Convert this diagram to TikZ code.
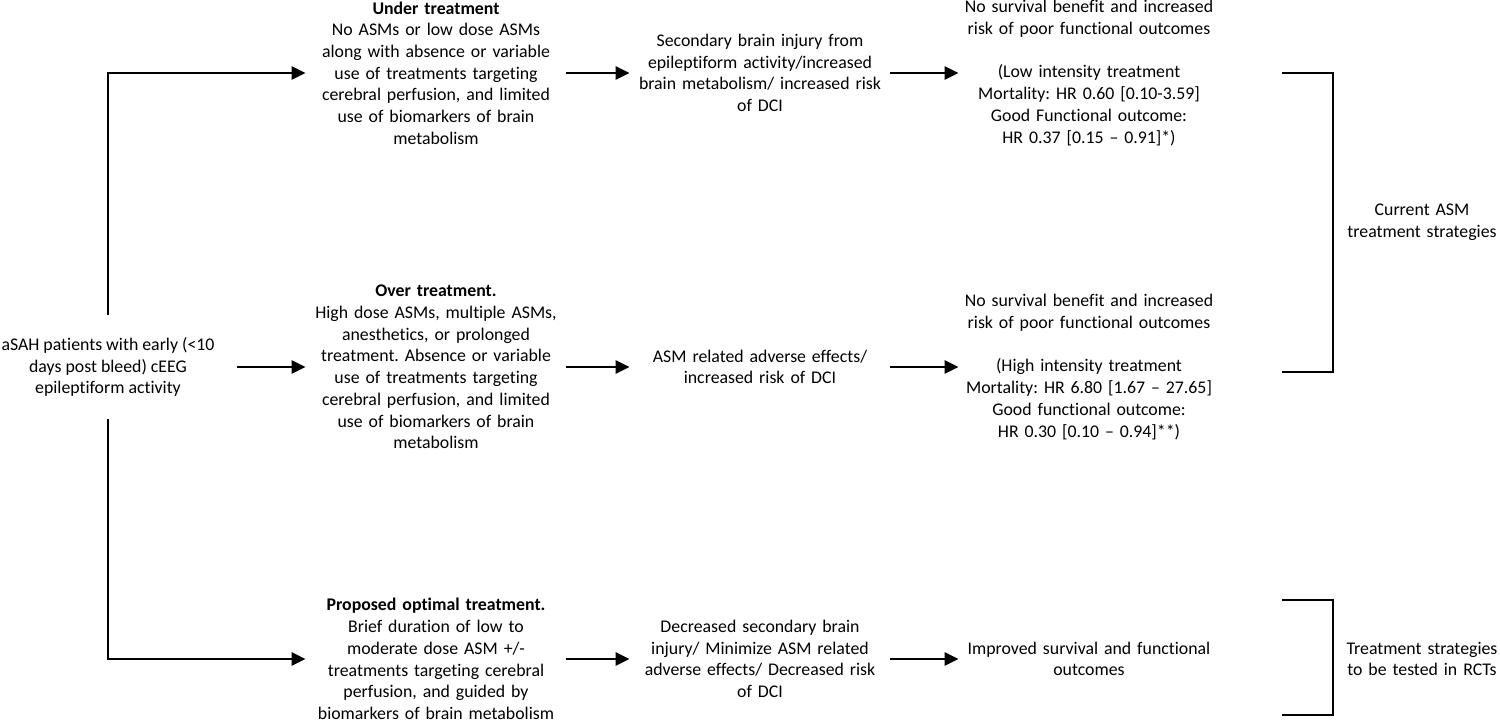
\documentclass[tikz,border=0pt]{standalone}
\usepackage{fontspec}
\setmainfont{Carlito}[Ligatures={TeX,NoCommon}]
\usetikzlibrary{arrows.meta}
\frenchspacing

\begin{document}
\begin{tikzpicture}[x=0.5pt,y=-0.5pt,
    txt/.style={font=\fontsize{8.9}{10.85}\selectfont},
    box/.style={txt,align=center,text width=126pt,inner xsep=2pt,inner ysep=0pt},
    conn/.style={line width=1.3pt,-{Triangle[length=7pt,width=6.5pt]}},
    bracket/.style={line width=1.3pt}]
  \useasboundingbox (0,0) rectangle (1500,722);

  \node[txt,align=center,inner xsep=11pt,inner ysep=11pt] (pat) at (108,367)
    {aSAH patients with early (<10\\days post bleed) cEEG\\epileptiform activity};

  \node[box] (under) at (436,73) {\textbf{Under treatment}\\No ASMs or low dose ASMs\\along with absence or variable\\use of treatments targeting\\cerebral perfusion, and limited\\use of biomarkers of brain\\metabolism};
  \node[box] (over) at (436,367) {\textbf{Over treatment.}\\High dose ASMs, multiple ASMs,\\anesthetics, or prolonged\\treatment. Absence or variable\\use of treatments targeting\\cerebral perfusion, and limited\\use of biomarkers of brain\\metabolism};
  \node[box] (prop) at (436,659) {\textbf{Proposed optimal treatment.}\\Brief duration of low to\\moderate dose ASM +/-\\treatments targeting cerebral\\perfusion, and guided by\\biomarkers of brain metabolism};

  \node[box] (injury) at (760,73) {Secondary brain injury from\\epileptiform activity/increased\\brain metabolism/ increased risk\\of DCI};
  \node[box] (adverse) at (760,367) {ASM related adverse effects/\\increased risk of DCI};
  \node[box] (decr) at (760,659) {Decreased secondary brain\\injury/ Minimize ASM related\\adverse effects/ Decreased risk\\of DCI};

  \node[box] (low) at (1089,73) {No survival benefit and increased\\risk of poor functional outcomes\\~\\(Low intensity treatment\\Mortality: HR 0.60 [0.10-3.59]\\Good Functional outcome:\\HR 0.37 [0.15 – 0.91]*)};
  \node[box] (high) at (1089,367) {No survival benefit and increased\\risk of poor functional outcomes\\~\\(High intensity treatment\\Mortality: HR 6.80 [1.67 – 27.65]\\Good functional outcome:\\HR 0.30 [0.10 – 0.94]**)};
  \node[box] (impr) at (1089,659) {Improved survival and functional\\outcomes};

  \node[box] (cur) at (1422,222) {Current ASM\\treatment strategies};
  \node[box] (rct) at (1422,659) {Treatment strategies\\to be tested in RCTs};

  \draw[conn] (pat.north) |- (under.west);
  \draw[conn] (pat.east) -- (over.west);
  \draw[conn] (pat.south) |- (prop.west);
  \draw[conn] (under) -- (injury);
  \draw[conn] (over) -- (adverse);
  \draw[conn] (prop) -- (decr);
  \draw[conn] (injury) -- (low);
  \draw[conn] (adverse) -- (high);
  \draw[conn] (decr) -- (impr);

  \draw[bracket] (1282,73) -- (1333,73) -- (1333,372) -- (1282,372);
  \draw[bracket] (1282,600) -- (1333,600) -- (1333,715) -- (1282,715);
\end{tikzpicture}
\end{document}
